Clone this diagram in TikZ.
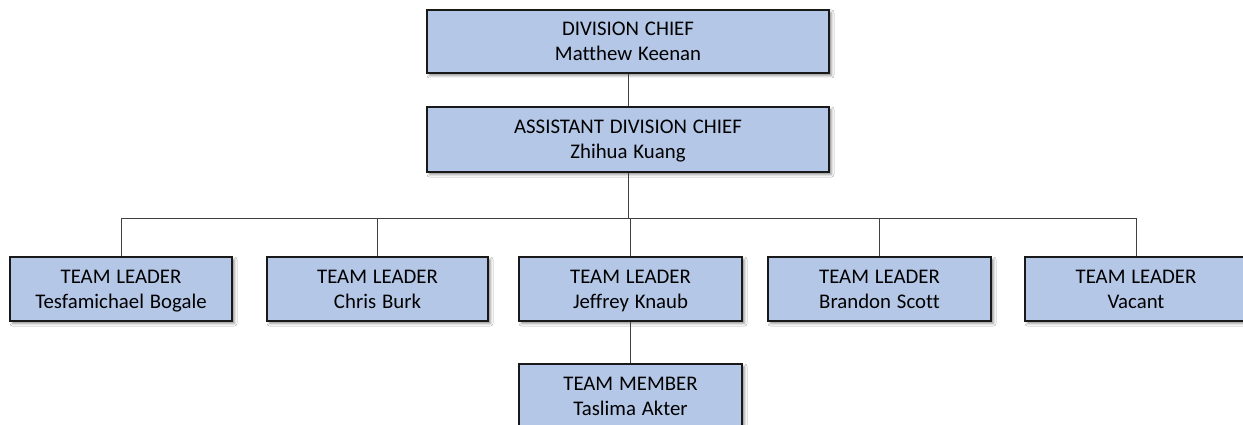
\documentclass[tikz,border=0pt]{standalone}
\usepackage{fontspec}
\setmainfont{Carlito}[Ligatures=NoCommon, WordSpace={1.25}]
\usetikzlibrary{shadows.blur}
\definecolor{boxfill}{HTML}{B4C7E7}
\definecolor{linecol}{HTML}{404040}
\newcommand\orgstrut{\rule[-5.5pt]{0pt}{25pt}}
\newcommand\twolines[2]{\orgstrut#1\\\orgstrut#2}
\tikzset{
  orgbox/.style={draw=black!90, line width=1.1pt, fill=boxfill, inner sep=0pt,
    minimum height=64pt, align=center,
    font=\fontsize{20.8}{25}\selectfont,
    blur shadow={shadow xshift=2.5pt, shadow yshift=-2.5pt, shadow blur radius=2.5pt, shadow opacity=45}},
  conn/.style={draw=linecol, line width=0.8pt}
}
\begin{document}
\begin{tikzpicture}[x=1pt, y=-1pt]
\clip (0,0) rectangle (1243,425);
\fill[white] (0,0) rectangle (1243,425);
\node[orgbox, minimum width=402pt, minimum height=63pt] (dc) at (628,41.5) {\twolines{DIVISION CHIEF}{Matthew Keenan}};
\node[orgbox, minimum width=402pt, minimum height=65pt] (adc) at (628,139.5) {\twolines{ASSISTANT DIVISION CHIEF}{Zhihua Kuang}};
\node[orgbox, minimum width=222pt] (t1) at (121,289) {\twolines{TEAM LEADER}{Tesfamichael Bogale}};
\node[orgbox, minimum width=221pt] (t2) at (377.5,289) {\twolines{TEAM LEADER}{Chris Burk}};
\node[orgbox, minimum width=223pt] (t3) at (630.5,289) {\twolines{TEAM LEADER}{Jeffrey Knaub}};
\node[orgbox, minimum width=223pt] (t4) at (879.5,289) {\twolines{TEAM LEADER}{Brandon Scott}};
\node[orgbox, minimum width=222pt] (t5) at (1136,289) {\twolines{TEAM LEADER}{Vacant}};
\node[orgbox, minimum width=223pt] (tm) at (630.5,396) {\twolines{TEAM MEMBER}{Taslima Akter}};
\coordinate (bus) at (628,218);
\draw[conn] (dc.south) -- (adc.north);
\foreach \t in {t1,t2,t3,t4,t5}{
  \draw[conn] (adc.south) -- (adc.south |- bus) -| (\t.north);
}
\draw[conn] (t3.south) -- (tm.north);
\end{tikzpicture}
\end{document}
